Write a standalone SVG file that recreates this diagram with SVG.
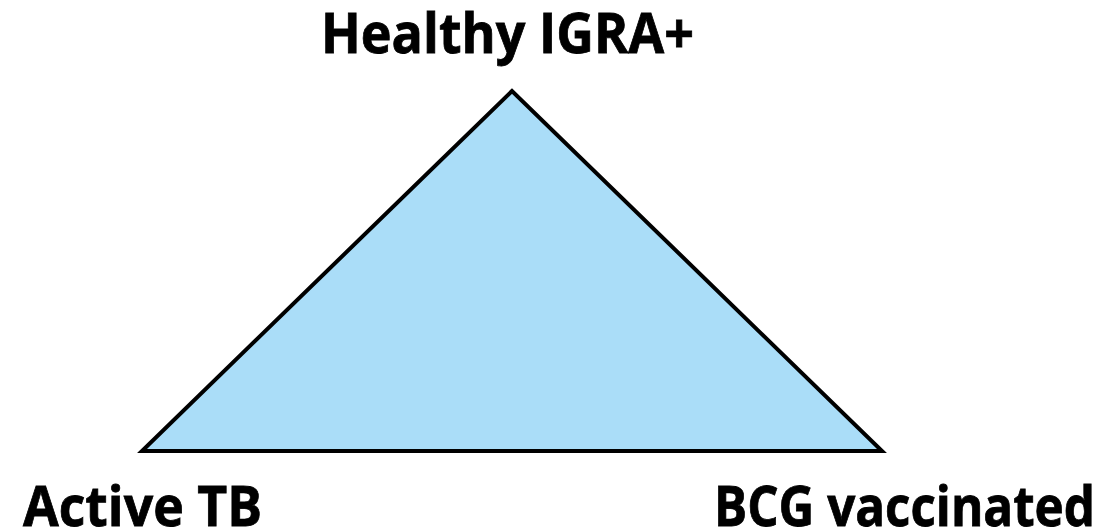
<svg xmlns="http://www.w3.org/2000/svg" width="1102" height="531" viewBox="0 0 1102 531">
  <style>
    .label { font-family: "Open Sans", "Liberation Sans", sans-serif; font-weight: bold; font-size: 56px; fill: #000; stroke: #000; stroke-width: 0.8; }
    .tri { fill: #AADDF8; stroke: #000; stroke-width: 4; stroke-linejoin: miter; }
  </style>
  <rect width="1102" height="531" fill="#fff"/>
  <g id="triangle">
    <polygon class="tri" points="512,91 142,451 882,451"/>
  </g>
  <g id="node-healthy">
    <text class="label" x="321" y="53" textLength="373" lengthAdjust="spacingAndGlyphs">Healthy IGRA+</text>
  </g>
  <g id="node-active">
    <text class="label" x="23" y="526" textLength="239" lengthAdjust="spacingAndGlyphs">Active TB</text>
  </g>
  <g id="node-bcg">
    <text class="label" x="714" y="526" textLength="381" lengthAdjust="spacingAndGlyphs">BCG vaccinated</text>
  </g>
  <g id="connectors"></g>
</svg>
